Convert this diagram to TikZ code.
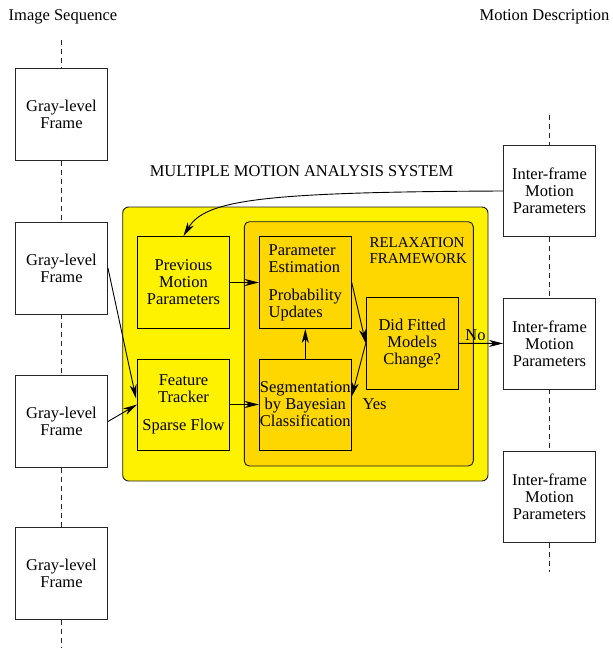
\documentclass[tikz,border=0pt]{standalone}
\usepackage{fontspec}
\setmainfont{Liberation Serif}
\usepackage{tikz}
\usetikzlibrary{arrows.meta}
\definecolor{figgold}{RGB}{255,215,0}

\begin{document}
\begin{tikzpicture}[x=1pt,y=-1pt,
        every node/.style={font=\fontsize{16.5}{17}\selectfont},
        framebox/.style={draw=black!85,fill=white,line width=0.9pt,minimum width=92pt,minimum height=92pt,inner sep=0pt,align=center},
        stagebox/.style={framebox,draw=black,fill=yellow},
        relaxbox/.style={framebox,draw=black,fill=figgold},
        seqline/.style={dashed,dash pattern=on 5pt off 4pt,black!85,line width=0.8pt},
        arr/.style={-{Stealth[length=14pt,width=7pt,inset=4pt]},line width=0.9pt}]
            \useasboundingbox (0,0) rectangle (613,648);
            % titles
            \node (seqtitle) at (63,17) {Image Sequence};
            \node (desctitle) at (544.5,17) {Motion Description};
            \node (systitle) at (301.5,171) {MULTIPLE MOTION ANALYSIS SYSTEM};
            % image sequence
            \node[framebox] (gray1) at (61.5,114.5) {Gray-level\\Frame};
            \node[framebox] (gray2) at (61.5,268) {Gray-level\\Frame};
            \node[framebox] (gray3) at (61.5,421.5) {Gray-level\\Frame};
            \node[framebox] (gray4) at (61.5,573.5) {Gray-level\\Frame};
            \coordinate (seqtop) at (61.5,40);
            \coordinate (seqbot) at (61.5,648);
            \draw[seqline] (seqtop) -- (gray1.north);
            \draw[seqline] (gray1.south) -- (gray2.north);
            \draw[seqline] (gray2.south) -- (gray3.north);
            \draw[seqline] (gray3.south) -- (gray4.north);
            \draw[seqline] (gray4.south) -- (seqbot);
            % motion description
            \node[framebox,minimum height=91pt] (inter1) at (549.5,191) {Inter-frame\\Motion\\Parameters};
            \node[framebox,minimum height=91pt] (inter2) at (549.5,343.5) {Inter-frame\\Motion\\Parameters};
            \node[framebox,minimum height=91pt] (inter3) at (549.5,497) {Inter-frame\\Motion\\Parameters};
            \coordinate (desctop) at (549.5,115);
            \coordinate (descbot) at (549.5,572);
            \draw[seqline] (desctop) -- (inter1.north);
            \draw[seqline] (inter1.south) -- (inter2.north);
            \draw[seqline] (inter2.south) -- (inter3.north);
            \draw[seqline] (inter3.south) -- (descbot);
            % analysis system
            \filldraw[fill=yellow,draw=black!90,line width=0.9pt,rounded corners=6pt] (122.7,207) rectangle (488,481);
            \filldraw[fill=figgold,draw=black!90,line width=0.9pt,rounded corners=5pt] (244.3,221.7) rectangle (473.3,466);
            \node[anchor=west,align=left,font=\fontsize{15}{16}\selectfont] (relaxtitle) at (366,251) {RELAXATION\\FRAMEWORK};
            \node[stagebox] (prevparams) at (183.5,282.5) {Previous\\Motion\\Parameters};
            \node[stagebox,minimum height=91pt] (tracker) at (183.5,404.5) {Feature\\Tracker\\[11pt]Sparse Flow};
            \node[relaxbox,align=left] (estimate) at (305.3,282.5) {Parameter\\Estimation\\[11pt]Probability\\Updates};
            \node[relaxbox,minimum height=91pt] (segment) at (305.3,404.5) {Segmentation\\by Bayesian\\Classification};
            \node[relaxbox] (changed) at (412.2,343.3) {Did Fitted\\Models\\Change?};
            \node[anchor=west] (yes) at (359,404) {Yes};
            % connectors
            \draw[arr] (inter1.west) .. controls (260,192) and (205,200) .. (prevparams.north);
            \draw[arr] (gray2.east) -- ([xshift=-1pt,yshift=6pt]tracker.west);
            \draw[arr] (gray3.east) -- (tracker.west);
            \draw[arr] (prevparams) -- (estimate);
            \draw[arr] (tracker) -- (segment);
            \draw[arr] (segment) -- (estimate);
            \draw[arr] (estimate.east) -- (changed.west);
            \draw[arr] (changed.west) -- ([yshift=8pt]segment.east);
            \draw[arr] (changed) -- node[pos=0.38,above=-1pt] (no) {No} (inter2);
        \end{tikzpicture}
\end{document}
